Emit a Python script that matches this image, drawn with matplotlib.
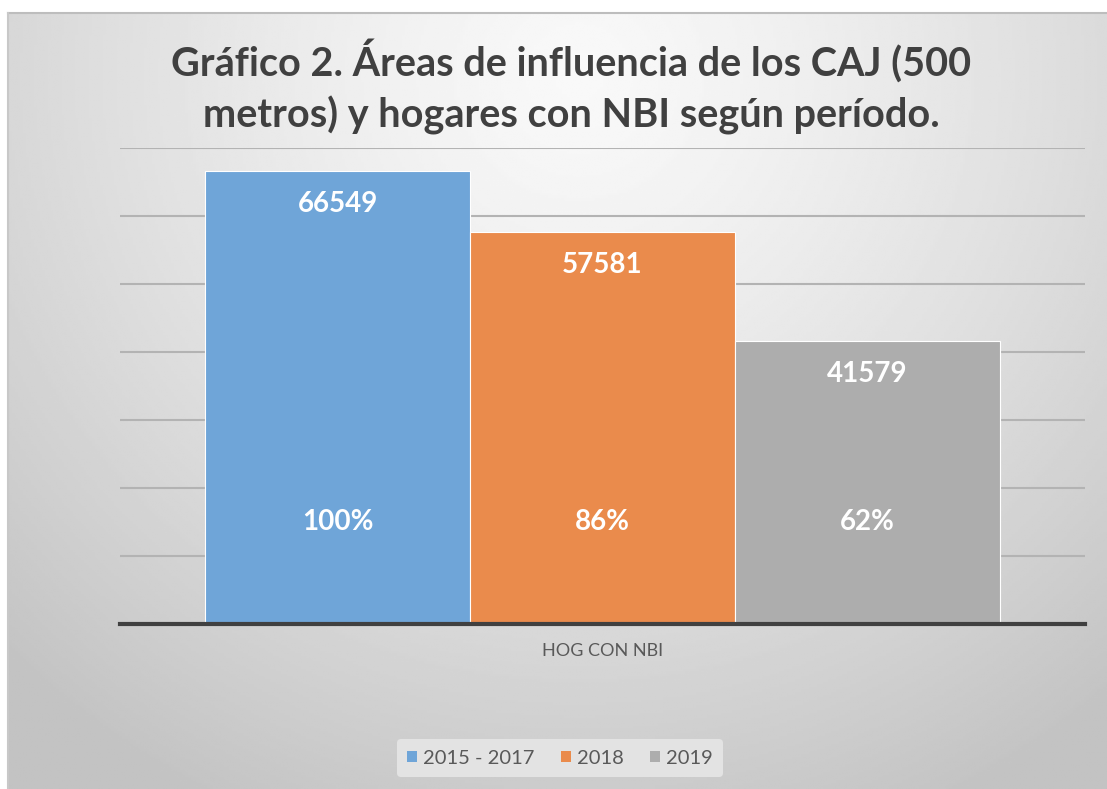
import numpy as np
import matplotlib.pyplot as plt
from matplotlib.patches import Patch

periodos = ['2015 - 2017', '2018', '2019']
hogares = [66549, 57581, 41579]
porcentajes = ['100%', '86%', '62%']
categoria = 'HOG CON NBI'
colores = ['#6fa5d8', '#ea8b4c', '#adadad']

titulo = 'Gráfico 2. Áreas de influencia de los CAJ (500\nmetros) y hogares con NBI según período.'

plt.rcParams['font.family'] = ['Lato', 'DejaVu Sans']

fig = plt.figure(figsize=(11.07, 7.89), dpi=100)
fig.patch.set_facecolor('white')

# fondo degradado
bg = fig.add_axes([8/1107, 0, 1 - 8/1107, (789-13)/789])
yy, xx = np.mgrid[0:1:300j, 0:1:400j]
d = np.sqrt(((xx - 0.52) / 0.75) ** 2 + ((yy - 0.08) / 1.05) ** 2)
d = np.clip(d, 0, 1)
img = 0.975 - 0.21 * d ** 1.3
bg.imshow(img, cmap='gray', vmin=0, vmax=1, aspect='auto', extent=[0, 1, 0, 1], origin='upper')
bg.set_axis_off()
bg.plot([0, 1], [1, 1], color='#bdbdbd', lw=1.5, transform=bg.transAxes, clip_on=False)
bg.plot([0, 0], [0, 1], color='#c8c8c8', lw=1.5, transform=bg.transAxes, clip_on=False)

ax = fig.add_axes([120/1107, 165/789, 965/1107, 476/789])
ax.patch.set_alpha(0)
x = np.arange(len(hogares)) - 1
bars = ax.bar(x, hogares, width=1.0, color=colores, edgecolor='white', linewidth=0.8, zorder=3)
ax.set_xlim(-1.821, 1.821)
ax.set_ylim(0, 70000)
ax.set_yticks(np.arange(10000, 70001, 10000))
ax.yaxis.grid(True, color='#b3b3b3', linewidth=1.5, zorder=0)
ax.tick_params(left=False, labelleft=False, bottom=False)
ax.set_xticks([0])
ax.set_xticklabels([categoria], fontsize=13, color='#595959')
ax.tick_params(axis='x', pad=10)
for s in ['top', 'right', 'left']:
    ax.spines[s].set_visible(False)
ax.spines['bottom'].set_color('#404040')
ax.spines['bottom'].set_linewidth(3)
ax.spines['bottom'].set_zorder(4)

for xi, v, p in zip(x, hogares, porcentajes):
    ax.text(xi, v - 4800, str(v), ha='center', va='center', color='white',
            fontsize=20, fontweight='bold', zorder=5)
    ax.text(xi, 15000, p, ha='center', va='center', color='white',
            fontsize=20, fontweight='bold', zorder=5)

fig.text(571/1107, 1 - 87/789, titulo, ha='center', va='center', fontsize=28.5,
         fontweight='bold', color='#404040', linespacing=1.4)

handles = [Patch(facecolor=c, edgecolor='none') for c in colores]
fig.legend(handles, periodos, loc='center', bbox_to_anchor=(560/1107, 1 - 758/789),
           ncol=3, frameon=True, facecolor='#e3e3e3', edgecolor='none', framealpha=1,
           fontsize=14.5, labelcolor='#595959', handlelength=0.5, handleheight=0.5,
           handletextpad=0.3, columnspacing=1.3, borderpad=0.5)

fig.savefig('out.png', dpi=100)
